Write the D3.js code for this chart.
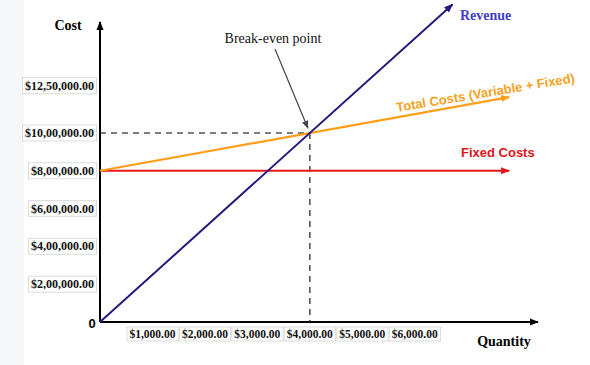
<!DOCTYPE html>
<html><head><meta charset="utf-8">
<script src="https://cdn.jsdelivr.net/npm/d3@7"></script>
<style>body{margin:0;background:#fff}svg{display:block}</style>
</head><body>
<svg id="c" width="590" height="365"></svg>
<script>
// ---- data ----
const xTickValues = [1000, 2000, 3000, 4000, 5000, 6000];
const xTickLabels = ["$1,000.00", "$2,000.00", "$3,000.00", "$4,000.00", "$5,000.00", "$6,000.00"];
const yTickValues = [200000, 400000, 600000, 800000, 1000000, 1250000];
const yTickLabels = ["$2,00,000.00", "$4,00,000.00", "$6,00,000.00", "$8,00,000.00", "$10,00,000.00", "$12,50,000.00"];
const fixedCost = 800000;
const variableCostPerUnit = 50;
const pricePerUnit = 250;
const revenueQty = [0, 6720];
const costQty = [0, 7800];
const breakEvenQty = 4000;
const breakEvenValue = 1000000;

// ---- layout ----
const svg = d3.select("#c");
const x = d3.scaleLinear().domain([0, 8350]).range([100, 538]);
const y = d3.scaleLinear().domain([0, 1587000]).range([322, 22]);

svg.append("rect").attr("x", 0).attr("y", 0).attr("width", 24).attr("height", 365).attr("fill", "#f5f7f9");

const defs = svg.append("defs");
function marker(id, color, size) {
  defs.append("marker").attr("id", id).attr("viewBox", "0 0 10 10")
    .attr("refX", 9).attr("refY", 5).attr("markerWidth", size).attr("markerHeight", size)
    .attr("markerUnits", "userSpaceOnUse").attr("orient", "auto")
    .append("path").attr("d", "M0,1 L10,5 L0,9 Z").attr("fill", color);
}
marker("mAxis", "#000", 9);
marker("mRev", "#24187e", 9);
marker("mTot", "#ff9e1b", 9);
marker("mFix", "#e8161b", 9);
marker("mAnn", "#444", 8);

// dashed guide lines
svg.append("line").attr("x1", x(0)).attr("x2", x(breakEvenQty)).attr("y1", y(breakEvenValue)).attr("y2", y(breakEvenValue))
  .attr("stroke", "#555").attr("stroke-width", 1.6).attr("stroke-dasharray", "6,5");
svg.append("line").attr("x1", x(breakEvenQty)).attr("x2", x(breakEvenQty)).attr("y1", y(breakEvenValue)).attr("y2", y(0))
  .attr("stroke", "#555").attr("stroke-width", 1.6).attr("stroke-dasharray", "6,5");

// axes
svg.append("line").attr("x1", x(0)).attr("y1", y(0)).attr("x2", x(0)).attr("y2", y.range()[1])
  .attr("stroke", "#000").attr("stroke-width", 2).attr("marker-end", "url(#mAxis)");
svg.append("line").attr("x1", x(0)).attr("y1", y(0)).attr("x2", x.range()[1]).attr("y2", y(0))
  .attr("stroke", "#000").attr("stroke-width", 2).attr("marker-end", "url(#mAxis)");

const line = d3.line().x(d => x(d[0])).y(d => y(d[1]));
// fixed costs
svg.append("path").datum(costQty.map(q => [q, fixedCost])).attr("d", line)
  .attr("fill", "none").attr("stroke", "#e8161b").attr("stroke-width", 2).attr("marker-end", "url(#mFix)");
// total costs
svg.append("path").datum(costQty.map(q => [q, fixedCost + variableCostPerUnit * q])).attr("d", line)
  .attr("fill", "none").attr("stroke", "#ff9e1b").attr("stroke-width", 2.2).attr("marker-end", "url(#mTot)");
// revenue
svg.append("path").datum(revenueQty.map(q => [q, pricePerUnit * q])).attr("d", line)
  .attr("fill", "none").attr("stroke", "#24187e").attr("stroke-width", 2).attr("marker-end", "url(#mRev)");

// tick labels with boxes
const serif = "Liberation Serif, Times New Roman, serif";
const sans = "Liberation Sans, Arial, sans-serif";
function boxedLabel(g, tx, ty, text, anchor, size) {
  const t = g.append("text").attr("x", tx).attr("y", ty).attr("text-anchor", anchor)
    .attr("dominant-baseline", "central").attr("font-family", serif).attr("font-weight", "bold")
    .attr("font-size", size).attr("fill", "#111").text(text);
  const b = t.node().getBBox();
  g.insert("rect", "text").attr("x", b.x - 2.5).attr("y", b.y - 1).attr("width", b.width + 5).attr("height", b.height + 2)
    .attr("fill", "#fff").attr("stroke", "#dcdcdc").attr("stroke-width", 1);
}
yTickValues.forEach((v, i) => {
  const g = svg.append("g");
  boxedLabel(g, 94, y(v), yTickLabels[i], "end", 12);
});
xTickValues.forEach((v, i) => {
  const g = svg.append("g");
  boxedLabel(g, x(v), 334, xTickLabels[i], "middle", 11.5);
});

svg.append("text").attr("x", 92).attr("y", 328).attr("text-anchor", "middle").attr("font-family", sans)
  .attr("font-weight", "bold").attr("font-size", 13).text("0");
svg.append("text").attr("x", 68).attr("y", 30).attr("text-anchor", "middle").attr("font-family", serif)
  .attr("font-weight", "bold").attr("font-size", 14).text("Cost");
svg.append("text").attr("x", 504).attr("y", 346).attr("text-anchor", "middle").attr("font-family", serif)
  .attr("font-weight", "bold").attr("font-size", 14).text("Quantity");

// annotations
svg.append("text").attr("x", 273).attr("y", 43).attr("text-anchor", "middle").attr("font-family", serif)
  .attr("font-size", 14).attr("fill", "#111").text("Break-even point");
svg.append("line").attr("x1", 275).attr("y1", 49).attr("x2", x(breakEvenQty) - 2).attr("y2", y(breakEvenValue) - 5)
  .attr("stroke", "#444").attr("stroke-width", 1.2).attr("marker-end", "url(#mAnn)");

svg.append("text").attr("x", 460).attr("y", 20).attr("font-family", serif).attr("font-weight", "bold")
  .attr("font-size", 14).attr("fill", "#3f3fc2").text("Revenue");
svg.append("text").attr("transform", "translate(397,112) rotate(-9.5)").attr("font-family", sans)
  .attr("font-weight", "bold").attr("font-size", 13).attr("fill", "#f7a21e").text("Total Costs (Variable + Fixed)");
svg.append("text").attr("x", 461).attr("y", 157).attr("font-family", sans).attr("font-weight", "bold")
  .attr("font-size", 13).attr("fill", "#e0141b").text("Fixed Costs");
</script>
</body></html>
